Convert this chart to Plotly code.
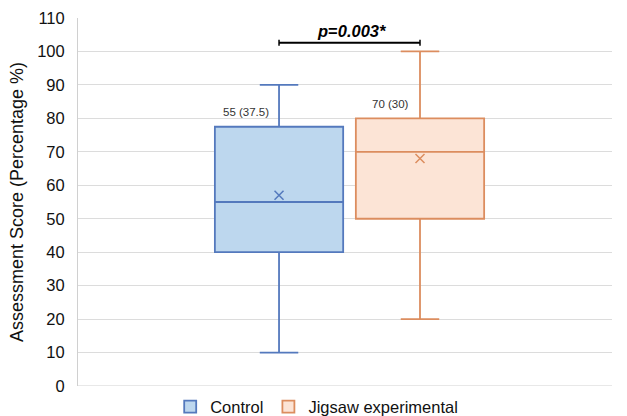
import plotly.graph_objects as go

groups = ["Control", "Jigsaw experimental"]
q1 = [40, 50]
median = [55, 70]
q3 = [77.5, 80]
lower = [10, 20]
upper = [90, 100]
means = [57, 68]
labels = ["55 (37.5)", "70 (30)"]
label_y = [81.9, 84.2]
fills = ["#BDD7EE", "#FCE4D6"]
lines = ["#5479BD", "#DC8D5F"]
ticks = list(range(0, 111, 10))

fig = go.Figure()
for i, g in enumerate(groups):
    fig.add_trace(go.Box(
        name=g, x=[i], q1=[q1[i]], median=[median[i]], q3=[q3[i]],
        lowerfence=[lower[i]], upperfence=[upper[i]],
        fillcolor=fills[i], line=dict(color=lines[i], width=1.8),
        width=0.91, whiskerwidth=0.3, boxpoints=False, showlegend=True,
    ))
    fig.add_trace(go.Scatter(
        x=[i], y=[means[i]], mode="markers", showlegend=False,
        marker=dict(symbol="x-thin", size=9, line=dict(color=lines[i], width=1.5)),
        hoverinfo="skip",
    ))
    fig.add_annotation(x=i - (0.234 if i == 0 else 0.206), y=label_y[i],
                       text=labels[i], showarrow=False,
                       font=dict(size=11.5, color="#333333"))

# significance bracket
fig.add_shape(type="line", x0=0, x1=1, y0=102.6, y1=102.6, line=dict(color="black", width=2))
fig.add_shape(type="line", x0=0, x1=0, y0=101.7, y1=103.5, line=dict(color="black", width=1.5))
fig.add_shape(type="line", x0=1, x1=1, y0=101.7, y1=103.5, line=dict(color="black", width=1.5))
fig.add_annotation(x=0.52, y=106.2, text="<b><i>p</i>=<i>0.003*</i></b>", showarrow=False,
                   font=dict(size=16.5, color="black"))

fig.update_layout(
    width=627, height=416,
    margin=dict(l=78, r=15, t=18, b=30, autoexpand=False),
    paper_bgcolor="white", plot_bgcolor="white",
    font=dict(family="Liberation Sans, Arial", size=17, color="#111"),
    legend=dict(orientation="h", x=0.447, xanchor="center", y=-0.057, yanchor="middle",
                font=dict(size=16.5), itemwidth=30, tracegroupgap=0),
    xaxis=dict(range=[-1.426, 2.362], showticklabels=False, showgrid=False,
               zeroline=False, showline=False),
    yaxis=dict(range=[0, 110], tickvals=ticks, showgrid=True, gridcolor="#DCDCDC",
               gridwidth=1.2, zeroline=False, showline=True, linecolor="#D0D0D0",
               ticks="", tickfont=dict(size=16.5), ticklabelstandoff=9,
               title=dict(text="Assessment Score (Percentage %)", font=dict(size=18), standoff=8)),
)
fig.add_shape(type="line", xref="paper", yref="y", x0=0, x1=1, y0=0, y1=0,
              line=dict(color="#D0D0D0", width=1))

fig.write_html("out.html", config={"displayModeBar": False},
               post_script="document.body.style.margin='0';document.body.style.padding='0';")
